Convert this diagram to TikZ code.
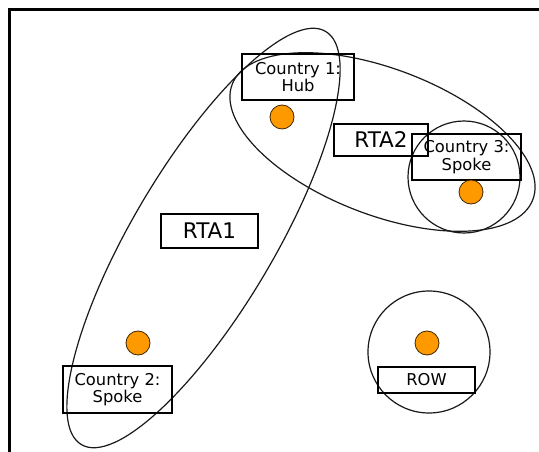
\documentclass[tikz,border=0pt]{standalone}
\usepackage{fontspec}
\setmainfont{DejaVu Sans}
\usetikzlibrary{shapes.geometric}
\definecolor{dotorange}{HTML}{FF9900}
\begin{document}
\begin{tikzpicture}[x=1pt,y=-1pt,
  ring/.style={draw=black!90, line width=1.2pt, ellipse, inner sep=0pt},
  box/.style={draw=black, line width=1.3pt, inner sep=0pt, align=center, font=\fontsize{16.3}{17.4}\selectfont},
  rtabox/.style={box, font=\fontsize{21.5}{24}\selectfont},
  dot/.style={circle, fill=dotorange, draw=black!75!dotorange, line width=0.8pt, minimum size=24pt, inner sep=0pt},
  frameline/.style={line width=2.5pt}]
\useasboundingbox (0,0) rectangle (539,452);
% frame
\coordinate (fbl) at (9.5,452);
\coordinate (ftl) at (9.5,9.5);
\coordinate (ftr) at (539,9.5);
\draw[frameline] (fbl) -- (ftl) -- (ftr);
% groupings
\node[ring, minimum width=480pt, minimum height=142pt, rotate=59.4] (rta1) at (203.5,238) {};
\node[ring, minimum width=322pt, minimum height=146pt, rotate=-21] (rta2) at (382.5,142) {};
\node[ring, circle, minimum size=112pt] (c3ring) at (464,177) {};
\node[ring, circle, minimum size=122pt] (rowring) at (429,352) {};
% labels
\node[box, minimum width=112pt, minimum height=46pt] (c1) at (298,77) {Country 1:\\Hub};
\node[rtabox, minimum width=94pt, minimum height=32pt] (rta2lbl) at (381,140) {RTA2};
\node[box, minimum width=109pt, minimum height=46pt] (c3) at (466.5,157) {Country 3:\\Spoke};
\node[rtabox, minimum width=97pt, minimum height=34pt] (rta1lbl) at (209.5,231) {RTA1};
\node[box, minimum width=109pt, minimum height=47pt] (c2) at (117.5,389.5) {Country 2:\\Spoke};
\node[box, minimum width=97pt, minimum height=26pt] (row) at (426.5,380) {ROW};
% dots
\node[dot] (d1) at (282,117) {};
\node[dot] (d2) at (138,343) {};
\node[dot] (d3) at (471,192) {};
\node[dot] (d4) at (427,343) {};
\end{tikzpicture}
\end{document}
